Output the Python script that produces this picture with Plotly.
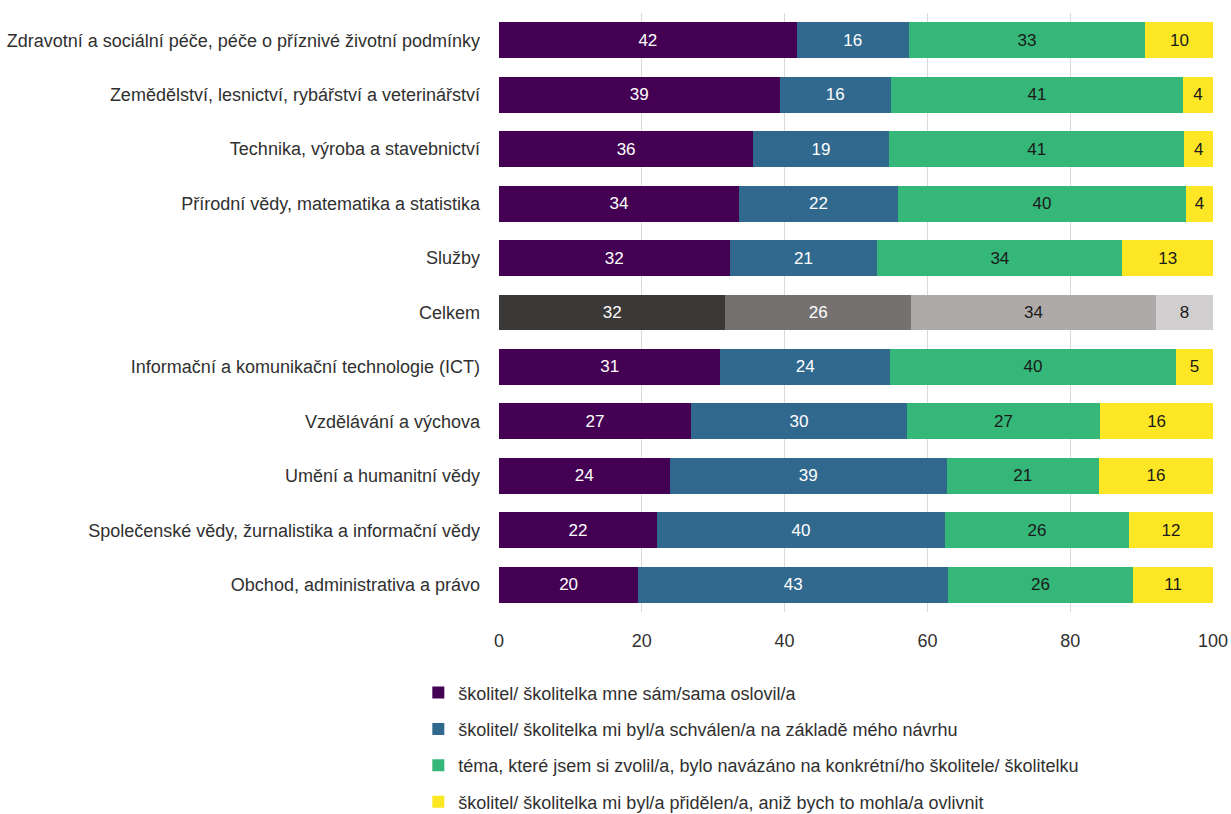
import plotly.graph_objects as go

categories = [
    "Zdravotní a sociální péče, péče o příznivé životní podmínky",
    "Zemědělství, lesnictví, rybářství a veterinářství",
    "Technika, výroba a stavebnictví",
    "Přírodní vědy, matematika a statistika",
    "Služby",
    "Celkem",
    "Informační a komunikační technologie (ICT)",
    "Vzdělávání a výchova",
    "Umění a humanitní vědy",
    "Společenské vědy, žurnalistika a informační vědy",
    "Obchod, administrativa a právo",
]

series_names = [
    "školitel/ školitelka mne sám/sama oslovil/a",
    "školitel/ školitelka mi byl/a schválen/a na základě mého návrhu",
    "téma, které jsem si zvolil/a, bylo navázáno na konkrétní/ho školitele/ školitelku",
    "školitel/ školitelka mi byl/a přidělen/a, aniž bych to mohla/a ovlivnit",
]

s1 = [41.7, 39.3, 35.6, 33.6, 32.3, 31.7, 31.0, 26.9, 23.9, 22.1, 19.5]
s2 = [15.7, 15.6, 19.0, 22.3, 20.7, 26.0, 23.8, 30.2, 38.8, 40.4, 43.4]
s3 = [33.1, 40.9, 41.4, 40.3, 34.3, 34.3, 40.0, 27.1, 21.3, 25.7, 25.9]
s4 = [9.6, 4.2, 4.0, 3.8, 12.7, 8.0, 5.2, 15.8, 16.0, 11.8, 11.2]

x_ticks = [0, 20, 40, 60, 80, 100]

colors = ["#440154", "#31688E", "#35B779", "#FDE725"]
text_colors = ["white", "white", "#1a1a1a", "#1a1a1a"]
total_colors = ["#3B3838", "#757171", "#AEAAAA", "#D0CECE"]
total_text_colors = ["white", "white", "#1a1a1a", "#1a1a1a"]

FONT = "Liberation Sans"
total_label = "Celkem"
TXT = "#303030"

fig = go.Figure()
all_series = [s1, s2, s3, s4]
for i, (name, vals) in enumerate(zip(series_names, all_series)):
    ys = [c for c in categories if c != total_label]
    xs = [v for c, v in zip(categories, vals) if c != total_label]
    fig.add_trace(go.Bar(
        y=ys, x=xs, name=name, orientation="h",
        marker=dict(color=colors[i], line=dict(width=0)),
        texttemplate="%{x:.0f}", textposition="inside", insidetextanchor="middle",
        textfont=dict(color=text_colors[i], size=17, family=FONT),
        legendgroup=f"g{i}", hoverinfo="x+y",
    ))
for i, vals in enumerate(all_series):
    idx = categories.index(total_label)
    fig.add_trace(go.Bar(
        y=[total_label], x=[vals[idx]], orientation="h", showlegend=False,
        marker=dict(color=total_colors[i], line=dict(width=0)),
        texttemplate="%{x:.0f}", textposition="inside", insidetextanchor="middle",
        textfont=dict(color=total_text_colors[i], size=17, family=FONT),
        legendgroup=f"t{i}",
    ))

fig.update_layout(
    width=1231, height=814,
    barmode="stack", bargap=0.34,
    plot_bgcolor="white", paper_bgcolor="white",
    margin=dict(l=499, r=18, t=13, b=202, autoexpand=False),
    font=dict(family=FONT, size=17, color=TXT),
    uniformtext=dict(minsize=17, mode="show"),
    showlegend=True,
    legend=dict(
        x=-0.113, y=-0.104, xanchor="left", yanchor="top",
        orientation="v", traceorder="grouped", tracegroupgap=10,
        font=dict(size=18, family=FONT, color=TXT),
        itemwidth=30,
    ),
)
fig.update_xaxes(
    range=[0, 100], tickvals=x_ticks, showgrid=True, gridcolor="#D9D9D9", gridwidth=1,
    zeroline=False, showline=False, ticks="", ticklabelstandoff=16,
    ticklabeloverflow="allow",
    tickfont=dict(size=18, color=TXT),
)
fig.update_yaxes(
    categoryorder="array", categoryarray=categories, autorange="reversed",
    showgrid=False, zeroline=False, showline=False, ticks="", ticklabelstandoff=18,
    tickfont=dict(size=18, color=TXT),
)

fig.write_html(
    "out.html",
    config={"displayModeBar": False},
    post_script="document.body.style.margin='0';document.body.style.overflow='hidden';",
)
